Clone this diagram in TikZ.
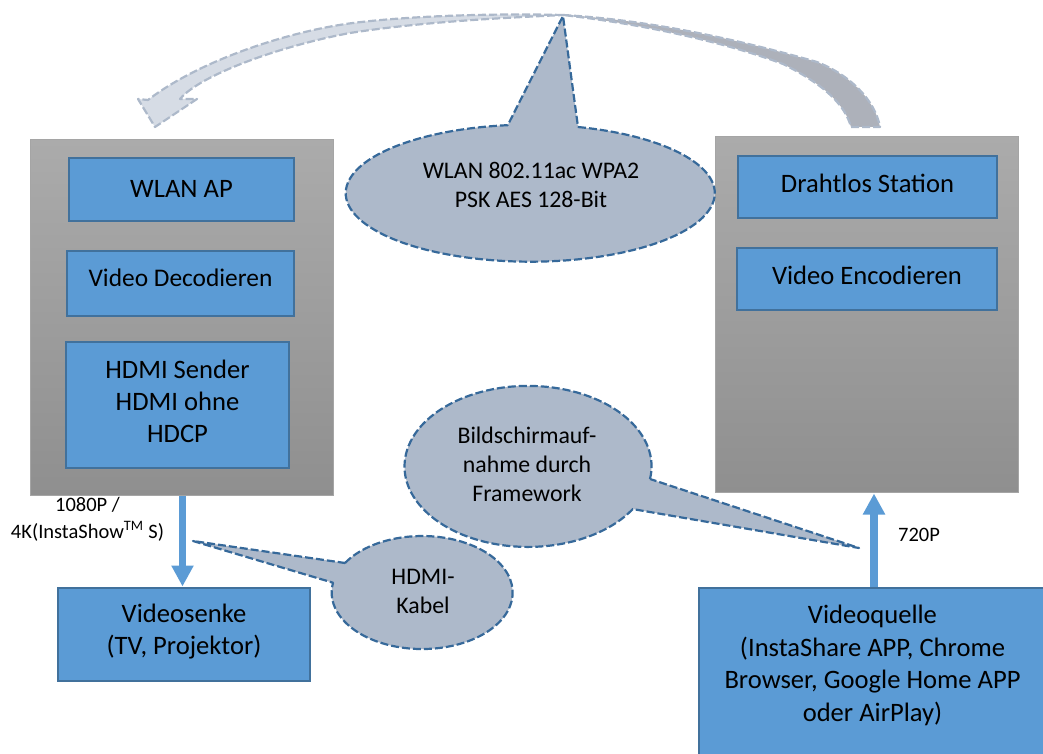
\documentclass[tikz,border=0pt]{standalone}
\usepackage{fontspec}
\usetikzlibrary{arrows.meta}
\setmainfont{Carlito}
\tikzset{
  panel/.style={anchor=north west,inner sep=0pt,draw=#1!80!white,line width=1pt,top color=#1!75!white,bottom color=#1},
  bluebox/.style={anchor=north west,inner sep=0pt,draw=boxline,line width=2pt,fill=boxfill,align=center,font=\fontsize{26.6}{32}\selectfont,text=black},
  bubble/.style={draw=bubbleline,dash pattern=on 8pt off 3pt,line width=2.2pt,fill=bubblefill,line join=round},
  bubbletext/.style={align=center,font=\fontsize{23.8}{29}\selectfont,text=black,inner sep=0pt},
  smalltext/.style={align=center,font=\fontsize{20.5}{27}\selectfont,text=black,inner sep=0pt},
  flowline/.style={draw=boxfill,line width=7.5pt,-{Triangle[width=21pt,length=21pt]},shorten >=0.5pt},
  swoosh/.style={draw=bubblefill,dash pattern=on 8pt off 3pt,line width=2.2pt,line join=round}
}
\definecolor{boxfill}{HTML}{5B9BD5}
\definecolor{boxline}{HTML}{41719C}
\definecolor{bubblefill}{HTML}{ADB9CA}
\definecolor{bubbleline}{HTML}{36699A}
\definecolor{swooshlight}{HTML}{D6DCE5}
\definecolor{swooshdark}{HTML}{ADB1BA}
\definecolor{panelgray}{HTML}{8F8F8F}
\begin{document}
\begin{tikzpicture}[yscale=-1,x=1pt,y=1pt]
\useasboundingbox (0,0) rectangle (1043,754);
% panels
\node[panel=panelgray,minimum width=303pt,minimum height=356pt] (left) at (30,139) {};
\node[panel=panelgray,minimum width=303pt,minimum height=356pt] (right) at (715,136) {};
% swoosh
\fill[swooshlight] (563,15) .. controls (480,13) and (400,17) .. (353,23) .. controls (290,31) and (200,60) .. (148,100) -- (138,99) -- (155,127) -- (197,99) -- (180,99) .. controls (200,75) and (280,46) .. (350,33) .. controls (420,22) and (500,18) .. (563,15) -- cycle;
\draw[swoosh] (563,15) .. controls (480,13) and (400,17) .. (353,23) .. controls (290,31) and (200,60) .. (148,100) -- (138,99) -- (155,127) -- (197,99) -- (180,99) .. controls (200,75) and (280,46) .. (350,33) .. controls (420,22) and (500,18) .. (563,15);
\fill[swooshdark] (563,15) .. controls (650,20) and (740,40) .. (817,62) .. controls (850,75) and (875,100) .. (880,127) -- (851,127) .. controls (845,105) and (825,85) .. (783,64) .. controls (730,44) and (650,25) .. (563,15) -- cycle;
\draw[swoosh] (563,15) .. controls (650,20) and (740,40) .. (817,62) .. controls (850,75) and (875,100) .. (880,127) -- (851,127) .. controls (845,105) and (825,85) .. (783,64) .. controls (730,44) and (650,25) .. (563,15);
% boxes
\node[bluebox,minimum width=225pt,minimum height=63pt,text depth=2pt] (ap) at (68,157) {WLAN AP};
\node[bluebox,minimum width=227pt,minimum height=65pt,text depth=12pt,font=\fontsize{25.4}{32}\selectfont] (dec) at (66,250) {Video Decodieren};
\node[bluebox,minimum width=223pt,minimum height=126pt,text depth=8pt] (hdmi) at (65,341) {HDMI Sender\\HDMI ohne\\HDCP};
\node[bluebox,minimum width=259pt,minimum height=62pt,text depth=8pt] (sta) at (737,155) {Drahtlos Station};
\node[bluebox,minimum width=260pt,minimum height=62pt,text depth=8pt] (enc) at (736,247) {Video Encodieren};
\node[bluebox,minimum width=252pt,minimum height=93pt,text depth=10pt] (sink) at (57,587) {Videosenke\\(TV, Projektor)};
\node[bluebox,minimum width=347pt,minimum height=167pt,text depth=16pt,font=\fontsize{26.6}{32.5}\selectfont] (src) at (698,587) {Videoquelle\\(InstaShare APP, Chrome\\Browser, Google Home APP\\oder AirPlay)};
% flows
\coordinate (downx) at (182.5,0);
\coordinate (upx) at (874,0);
\draw[flowline] (left.south -| downx) -- (sink.north -| downx);
\draw[flowline] (src.north -| upx) -- (right.south -| upx);
% bubbles
\draw[bubble] (578,127) arc[start angle=-75,end angle=263,x radius=184.5pt,y radius=68.5pt] -- (563,16) -- cycle;
\draw[bubble] (650,479) arc[start angle=9,end angle=-328,x radius=123.5pt,y radius=80.5pt] -- (859,548) -- cycle;
\draw[bubble] (345,563) arc[start angle=-148.5,end angle=190,x radius=90.5pt,y radius=56.5pt] -- (193,541) -- cycle;
\node[bubbletext] (t1) at (531,185) {WLAN 802.11ac WPA2\\PSK AES 128-Bit};
\node[bubbletext] (t2) at (527,464) {Bildschirmauf-\\nahme durch\\Framework};
\node[bubbletext] (t3) at (423,591) {HDMI-\\Kabel};
\node[smalltext] (l1) at (87.5,519) {1080P /\\4K(InstaShow\textsuperscript{TM} S)};
\node[smalltext] (l2) at (919,535) {720P};
\end{tikzpicture}
\end{document}
